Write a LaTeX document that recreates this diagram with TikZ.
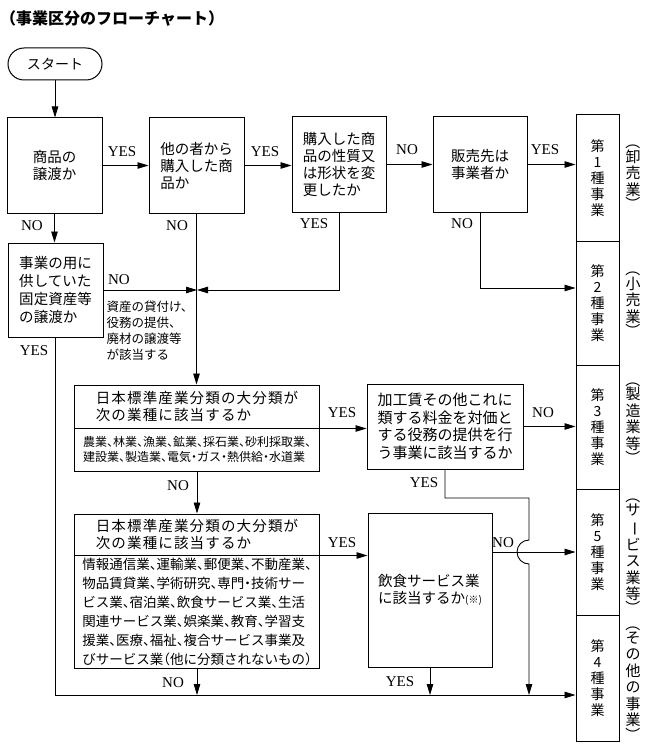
\documentclass[tikz,border=0pt]{standalone}
\usepackage{fontspec}
\usepackage{graphicx}
\usetikzlibrary{arrows.meta,calc}
\setmainfont{Noto Sans CJK JP}
\newfontfamily\cjkh[RawFeature={+halt}]{Noto Sans CJK JP}
\newfontfamily\cjkls[LetterSpace=8]{Noto Sans CJK JP}
\newfontfamily\lat{Liberation Serif}
\newcommand\vlparen{\rotatebox[origin=c]{-90}{\cjkh （}}
\newcommand\vrparen{\rotatebox[origin=c]{-90}{\cjkh ）}}
\newcommand\vbar{\rotatebox[origin=c]{-90}{ー}}
\tikzset{
  box/.style={draw,line width=1pt,inner sep=0pt,align=left,anchor=center,
    font=\fontsize{14.5}{17}\selectfont},
  sz/.style 2 args={minimum width=#1,minimum height=#2},
  lbl/.style={inner sep=0pt,font=\lat\fontsize{15}{15}\selectfont},
  arr/.style={line width=0.9pt,-{Triangle[length=11pt,width=6.5pt]}},
  ln/.style={line width=0.9pt},
  colbox/.style={draw,line width=1pt,inner sep=0pt,align=center,minimum width=43pt,
    font=\fontsize{14}{16}\selectfont},
  vlab/.style={inner sep=0pt,align=center,font=\fontsize{15}{16.5}\selectfont}
}
\begin{document}
\begin{tikzpicture}[x=1pt,y=1pt]
\useasboundingbox (0,0) rectangle (664,-754);
% title
\node[anchor=west,inner sep=0pt,font=\bfseries\fontsize{16}{16}\selectfont] (title) at (0,-18) {（事業区分のフローチャート）};
% start
\node[draw,line width=1pt,rounded corners=16pt,minimum width=94pt,minimum height=32pt,inner sep=0pt,font=\fontsize{14}{14}\selectfont] (start) at (55,-64) {スタート};
% boxes
\node[box,sz={95pt}{95pt}] (box1) at (54.5,-165.5) {商品の\\譲渡か};
\node[box,sz={95pt}{95pt}] (box2) at (196.5,-165.5) {他の者から\\購入した商\\品か};
\node[box,sz={94pt}{95pt}] (box3) at (339,-164.5) {購入した商\\品の性質又\\は形状を変\\更したか};
\node[box,sz={94pt}{95pt}] (box4) at (480,-164.5) {販売先は\\事業者か};
\node[box,sz={95pt}{94pt},font=\fontsize{14.5}{18}\selectfont] (box5) at (55.5,-290) {事業の用に\\供していた\\固定資産等\\の譲渡か};
\node[box,sz={245pt}{43pt},font=\cjkls\fontsize{14.5}{16.5}\selectfont] (box6h) at (197,-406.5) {日本標準産業分類の大分類が\\次の業種に該当するか};
\node[box,sz={245pt}{43pt},font=\cjkh\fontsize{12}{15}\selectfont] (box6b) at (197,-449.5) {農業、林業、漁業、鉱業、採石業、砂利採取業、\\建設業、製造業、電気・ガス・熱供給・水道業};
\node[box,sz={156pt}{85pt},font=\fontsize{15}{17.6}\selectfont] (box7) at (445,-426.5) {加工賃その他これに\\類する料金を対価と\\する役務の提供を行\\う事業に該当するか};
\node[box,sz={245pt}{41pt},font=\cjkls\fontsize{14.5}{16.5}\selectfont] (box8h) at (197,-534.5) {日本標準産業分類の大分類が\\次の業種に該当するか};
\node[box,sz={245pt}{113pt},font=\cjkh\fontsize{13.5}{19}\selectfont] (box8b) at (197,-611.5) {情報通信業、運輸業、郵便業、不動産業、\\物品賃貸業、学術研究、専門・技術サー\\ビス業、宿泊業、飲食サービス業、生活\\関連サービス業、娯楽業、教育、学習支\\援業、医療、福祉、複合サービス事業及\\びサービス業（他に分類されないもの）};
\node[box,sz={124pt}{154pt}] (box9) at (430,-590) {飲食サービス業\\に該当するか{\fontsize{10}{10}\selectfont (※)}};
% note
\node[inner sep=0pt,align=left,font=\fontsize{12.5}{16}\selectfont] (note) at (150,-331) {資産の貸付け、\\役務の提供、\\廃材の譲渡等\\が該当する};
% columns
\node[colbox,minimum height=126pt] (col1) at (597.5,-178) {第\\1\\種\\事\\業};
\node[colbox,minimum height=124pt] (col2) at (597.5,-303) {第\\2\\種\\事\\業};
\node[colbox,minimum height=124pt] (col3) at (597.5,-427) {第\\3\\種\\事\\業};
\node[colbox,minimum height=126pt] (col5) at (597.5,-552) {第\\5\\種\\事\\業};
\node[colbox,minimum height=126pt] (col4) at (597.5,-678) {第\\4\\種\\事\\業};
% right labels
\node[vlab] (lab1) at (633,-174) {\vlparen\\[-6pt]卸\\売\\業\\[-6pt]\vrparen};
\node[vlab] (lab2) at (633,-301) {\vlparen\\[-6pt]小\\売\\業\\[-6pt]\vrparen};
\node[vlab] (lab3) at (633,-420) {\vlparen\\[-6pt]製\\造\\業\\等\\[-6pt]\vrparen};
\node[vlab] (lab5) at (633,-553) {\vlparen\\[-6pt]サ\\\vbar\\ビ\\ス\\業\\等\\[-6pt]\vrparen};
\node[vlab] (lab4) at (633,-680) {\vlparen\\[-6pt]そ\\の\\他\\の\\事\\業\\[-6pt]\vrparen};
% coordinates
\coordinate (jn) at (197,-290);
\coordinate (j2) at (575.5,-288);
\coordinate (j4) at (575.5,-695);
\coordinate (k1) at (529,-498);
\coordinate (k2) at (529,-540);
\coordinate (k4) at (529,-695);
% connectors
\draw[arr] (start.south) -- (start.south |- box1.north);
\draw[arr] (box1.east) -- (box1.east -| box2.west);
\draw[arr] (box2.east) -- (box2.east -| box3.west);
\draw[arr] (box3.east) -- (box3.east -| box4.west);
\draw[arr] (box4.east) -- (box4.east -| col1.west);
\draw[arr] (box4.south) |- (j2);
\draw[arr] (box1.south) -- (box1.south |- box5.north);
\draw[arr] (box5.east) -- (jn);
\draw[arr] (box3.south) |- (jn);
\draw[arr] (box2.south) -- (box2.south |- box6h.north);
\draw[arr] (box6h.south east) -- (box6h.south east -| box7.west);
\draw[arr] (box7.east) -- (box7.east -| col3.west);
\draw[arr] (box6b.south) -- (box6b.south |- box8h.north);
\draw[arr] (box8h.south east) -- (box8h.south east -| box9.west);
\draw[arr] (box9.east |- col5.west) -- (col5.west);
\draw[arr] (box7.south) |- (k1) -- (k2) arc[start angle=90,end angle=270,radius=12] -- (k4);
\draw[arr] (box5.south) |- (j4);
\draw[arr] (box8b.south) -- (box8b.south |- j4);
\draw[arr] (box9.south) -- (box9.south |- j4);
% labels
\node[lbl] (y1) at (122,-152) {YES};
\node[lbl] (y2) at (265,-152) {YES};
\node[lbl] (n3) at (407,-150) {NO};
\node[lbl] (y4) at (545,-150) {YES};
\node[lbl] (n1) at (32,-226) {NO};
\node[lbl] (n2) at (177,-226) {NO};
\node[lbl] (y3) at (314,-224) {YES};
\node[lbl] (n4) at (462,-224) {NO};
\node[lbl] (n5) at (119,-280) {NO};
\node[lbl] (y5) at (34,-351) {YES};
\node[lbl] (y6) at (342,-413) {YES};
\node[lbl] (n7) at (543,-413) {NO};
\node[lbl] (n6) at (178,-486) {NO};
\node[lbl] (y7) at (424,-483) {YES};
\node[lbl] (y8) at (342,-543) {YES};
\node[lbl] (n9) at (503,-543) {NO};
\node[lbl] (n8) at (173,-683) {NO};
\node[lbl] (y9) at (400,-682) {YES};
\end{tikzpicture}
\end{document}
